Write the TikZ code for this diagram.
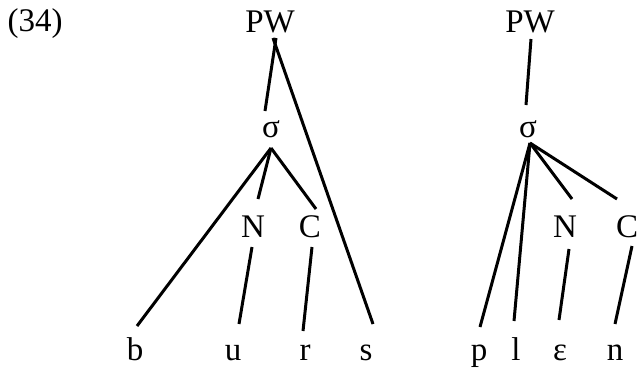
\documentclass[tikz,border=0pt]{standalone}
\usepackage{fontspec}
\setmainfont{Liberation Serif}
\usetikzlibrary{calc}
\begin{document}
\begin{tikzpicture}[x=1pt,y=-1pt,
  lab/.style={anchor=base,inner sep=0pt,font=\fontsize{33}{36}\selectfont},
  branch/.style={line width=3pt}]
\useasboundingbox (0,0) rectangle (639,368);
% example number
\node[lab] (num) at (35,31) {(34)};
% left tree: burs
\node[lab] (pwL)  at (270,32)  {PW};
\node[lab] (sigL) at (271,137) {σ};
\node[lab] (nL)   at (253,237) {N};
\node[lab] (cL)   at (310,237) {C};
\node[lab] (b)    at (135,360) {b};
\node[lab] (u)    at (233,360) {u};
\node[lab] (r)    at (305,360) {r};
\node[lab] (s)    at (366,360) {s};
% right tree: plɛn
\node[lab] (pwR)  at (530,32)  {PW};
\node[lab] (sigR) at (528,137) {σ};
\node[lab] (nR)   at (565,237) {N};
\node[lab] (cR)   at (627,237) {C};
\node[lab] (p)    at (479,360) {p};
\node[lab] (l)    at (516,360) {l};
\node[lab] (eps)  at (560,360) {ɛ};
\node[lab] (n)    at (615,360) {n};
% left branches
\draw[branch] ($(pwL.base)+(6,6)$)   -- ($(sigL.base)+(-6,-26)$);
\draw[branch] ($(pwL.base)+(3,6)$)   -- ($(s.base)+(7,-36)$);
\draw[branch] ($(sigL.base)+(0,11)$) -- ($(b.base)+(2,-34)$);
\draw[branch] ($(sigL.base)+(0,11)$) -- ($(nL.base)+(5,-38)$);
\draw[branch] ($(sigL.base)+(0,11)$) -- ($(cL.base)+(6,-28)$);
\draw[branch] ($(nL.base)+(-1,10)$)  -- ($(u.base)+(6,-36)$);
\draw[branch] ($(cL.base)+(2,10)$)   -- ($(r.base)+(-2,-29)$);
% right branches
\draw[branch] ($(pwR.base)+(1,7)$)   -- ($(sigR.base)+(-2,-32)$);
\draw[branch] ($(sigR.base)+(2,6)$)  -- ($(p.base)+(1,-33)$);
\draw[branch] ($(sigR.base)+(2,6)$)  -- ($(l.base)+(-2,-39)$);
\draw[branch] ($(sigR.base)+(2,6)$)  -- ($(nR.base)+(7,-38)$);
\draw[branch] ($(sigR.base)+(2,6)$)  -- ($(cR.base)+(-10,-38)$);
\draw[branch] ($(nR.base)+(4,12)$)   -- ($(eps.base)+(-1,-40)$);
\draw[branch] ($(cR.base)+(5,9)$)    -- ($(n.base)+(0,-36)$);
\end{tikzpicture}
\end{document}
